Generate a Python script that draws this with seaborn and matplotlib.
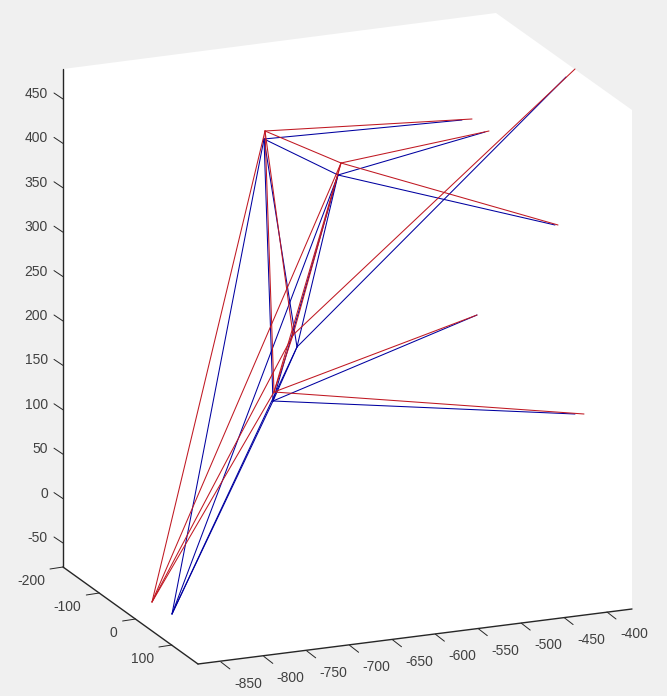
import pandas as pd
import seaborn as sns
import matplotlib.pyplot as plt

# Frame nodes: hub A, hub B, base, hub C, hub D, then the free ends
node_names = ['A', 'B', 'base', 'C', 'D', 'e1', 'e2', 'e3', 'e4', 'e5', 'e6']
blue_h = [264, 338, 172, 273, 297, 462, 485, 555, 477, 575, 566]
blue_v = [139, 175, 614, 401, 347, 120, 132, 225, 315, 414, 77]
red_h = [265, 341, 152, 274, 293, 472, 489, 558, 477, 584, 575]
red_v = [131, 163, 602, 392, 335, 119, 131, 225, 315, 414, 69]

# Members of the frame
edge_from = ['A', 'A', 'B', 'B', 'A', 'A', 'A', 'B', 'B', 'B', 'D', 'D', 'D', 'C', 'C', 'C']
edge_to = ['e1', 'B', 'e2', 'e3', 'base', 'C', 'D', 'D', 'C', 'base', 'C', 'e6', 'base', 'e4', 'e5', 'base']

# Tick labels of the three axes
x_ticks = [-850, -800, -750, -700, -650, -600, -550, -500, -450, -400]
y_ticks = [-200, -100, 0, 100]
z_ticks = [-50, 0, 50, 100, 150, 200, 250, 300, 350, 400, 450]

# Box outline in the view
box_h = [63, 496, 632, 632, 198, 63]
box_v = [69, 13, 110, 609, 664, 567]

GREY = '#f0f0f0'
AXIS = '#262626'
TEXT = '#404040'


def x_pos(val):
    return 607 + (val + 400) * 0.858, 612 - (val + 400) * 0.111


def y_pos(val):
    return 63 + (val + 200) * 0.363, 567 + (val + 200) * 0.26


def z_pos(val):
    return 63, 99 + (450 - val) * 0.888


def edges_frame(h, v, name):
    rows = []
    for i, (a, b) in enumerate(zip(edge_from, edge_to)):
        for n in (a, b):
            k = node_names.index(n)
            rows.append({'h': h[k], 'v': v[k], 'edge': i, 'run': name})
    return pd.DataFrame(rows)


sns.set_style('white')
plt.rcParams['font.family'] = ['Liberation Sans', 'DejaVu Sans']

fig = plt.figure(figsize=(6.67, 6.96), dpi=100, facecolor=GREY)
ax = fig.add_axes([0, 0, 1, 1])
ax.set_xlim(0, 667)
ax.set_ylim(696, 0)
ax.axis('off')

ax.fill(box_h, box_v, color='white', lw=0, zorder=0)

data = pd.concat([edges_frame(blue_h, blue_v, 'blue'), edges_frame(red_h, red_v, 'red')])
sns.lineplot(data=data, x='h', y='v', hue='run', units='edge', estimator=None, sort=False,
             palette={'blue': '#0000a0', 'red': '#c01822'}, lw=0.75, legend=False, ax=ax)
ax.set_xlim(0, 667)
ax.set_ylim(696, 0)

# Axis lines
ax.plot([63, 63], [69, 567], color=AXIS, lw=1)
ax.plot([63, 198], [567, 664], color=AXIS, lw=1)
ax.plot([198, 632], [664, 609], color=AXIS, lw=1)

# Ticks and labels
for t in z_ticks:
    h, v = z_pos(t)
    ax.plot([h, h - 9], [v, v - 6], color=AXIS, lw=0.7)
    ax.text(h - 15, v - 5, str(t), ha='right', va='center', fontsize=10, color=TEXT)

for t in y_ticks:
    h, v = y_pos(t)
    ax.plot([h, h - 13], [v, v + 2], color=AXIS, lw=0.7)
    ax.text(h - 18, v + 14, str(t), ha='right', va='center', fontsize=10, color=TEXT)

for t in x_ticks:
    h, v = x_pos(t)
    ax.plot([h, h + 9], [v, v + 7], color=AXIS, lw=0.7)
    ax.text(h + 27, v + 22, str(t), ha='center', va='center', fontsize=10, color=TEXT)

fig.savefig('out.png', dpi=100, facecolor=GREY)
